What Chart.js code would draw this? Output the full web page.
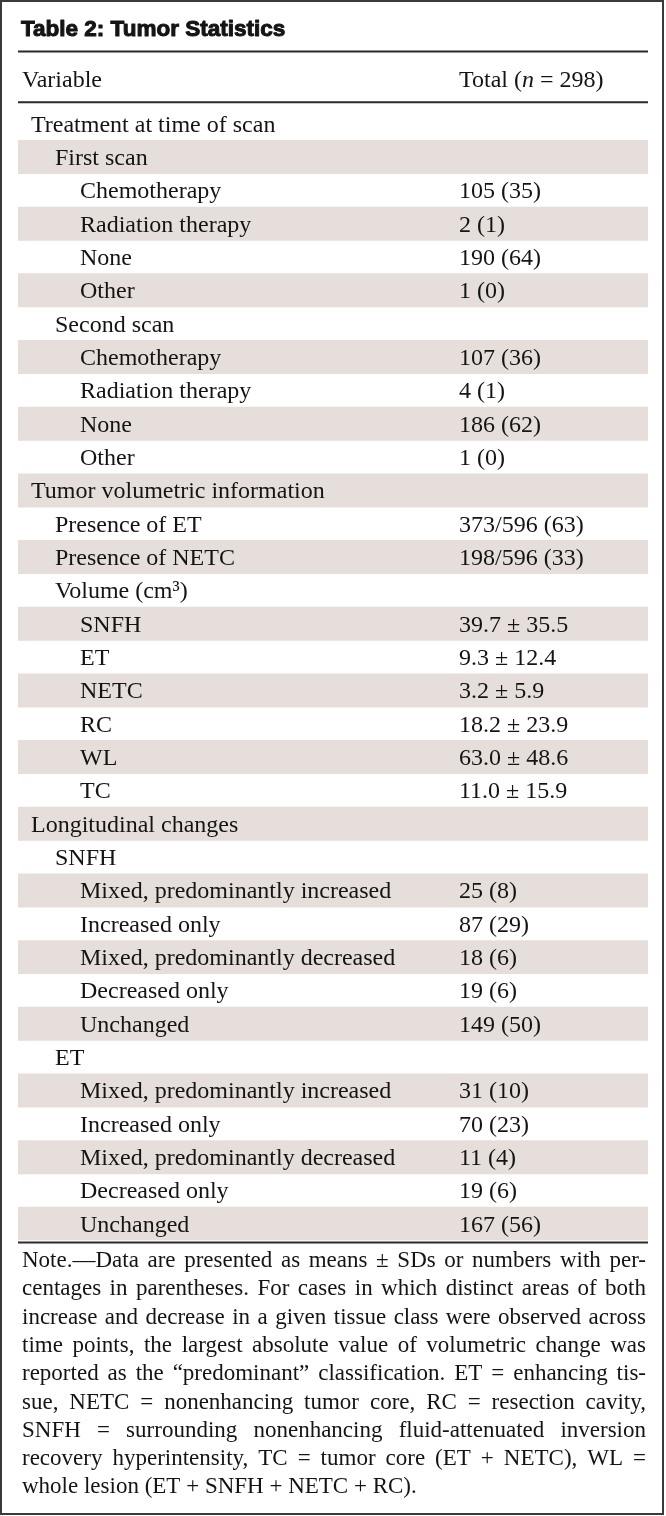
<!DOCTYPE html>
<html>
<head>
<meta charset="utf-8">
<script src="https://cdn.jsdelivr.net/npm/chart.js@4.4.1/dist/chart.umd.min.js"></script>
<style>
  html, body { margin: 0; padding: 0; background: #fff; }
  #wrap { width: 666px; height: 1516px; position: relative; }
</style>
</head>
<body>
<div id="wrap"><canvas id="tbl"></canvas></div>
<script>
// Table rows (variable column), indent level and total column
const rowLabels = [
    'Treatment at time of scan', 'First scan', 'Chemotherapy', 'Radiation therapy', 'None', 'Other',
    'Second scan', 'Chemotherapy', 'Radiation therapy', 'None', 'Other',
    'Tumor volumetric information', 'Presence of ET', 'Presence of NETC', 'Volume (cm\u00B3)',
    'SNFH', 'ET', 'NETC', 'RC', 'WL', 'TC',
    'Longitudinal changes', 'SNFH',
    'Mixed, predominantly increased', 'Increased only', 'Mixed, predominantly decreased', 'Decreased only', 'Unchanged',
    'ET',
    'Mixed, predominantly increased', 'Increased only', 'Mixed, predominantly decreased', 'Decreased only', 'Unchanged'
];
const rowLevels = [
    0, 1, 2, 2, 2, 2,
    1, 2, 2, 2, 2,
    0, 1, 1, 1,
    2, 2, 2, 2, 2, 2,
    0, 1,
    2, 2, 2, 2, 2,
    1,
    2, 2, 2, 2, 2
];
const rowValues = [
    '', '', '105 (35)', '2 (1)', '190 (64)', '1 (0)',
    '', '107 (36)', '4 (1)', '186 (62)', '1 (0)',
    '', '373/596 (63)', '198/596 (33)', '',
    '39.7 \u00B1 35.5', '9.3 \u00B1 12.4', '3.2 \u00B1 5.9', '18.2 \u00B1 23.9', '63.0 \u00B1 48.6', '11.0 \u00B1 15.9',
    '', '',
    '25 (8)', '87 (29)', '18 (6)', '19 (6)', '149 (50)',
    '',
    '31 (10)', '70 (23)', '11 (4)', '19 (6)', '167 (56)'
];

const titleText = 'Table 2: Tumor Statistics';
const headerLeft = 'Variable';
const noteLines = [
    'Note.\u2014Data are presented as means \u00B1 SDs or numbers with per-',
    'centages in parentheses. For cases in which distinct areas of both',
    'increase and decrease in a given tissue class were observed across',
    'time points, the largest absolute value of volumetric change was',
    'reported as the \u201Cpredominant\u201D classification. ET = enhancing tis-',
    'sue, NETC = nonenhancing tumor core, RC = resection cavity,',
    'SNFH = surrounding nonenhancing fluid-attenuated inversion',
    'recovery hyperintensity, TC = tumor core (ET + NETC), WL =',
    'whole lesion (ET + SNFH + NETC + RC).'
];

const SERIF = '"Liberation Serif", "Times New Roman", serif';
const TEXT = '#141414';
const RULE = '#2a2a2a';
const BAND = '#e6dedb';

// every second row is shaded
const bandValues = rowLabels.map((_, i) => (i % 2 === 1 ? 1 : null));

function drawJustified(ctx, text, x, y, width, justify) {
    if (!justify) {
        ctx.fillText(text, x, y);
        return;
    }
    const words = text.split(' ');
    const wordsWidth = words.reduce((s, w) => s + ctx.measureText(w).width, 0);
    const gap = (width - wordsWidth) / (words.length - 1);
    let cx = x;
    words.forEach(w => {
        ctx.fillText(w, cx, y);
        cx += ctx.measureText(w).width + gap;
    });
}

const tablePlugin = {
    id: 'tablePlugin',
    beforeDraw(chart) {
        const ctx = chart.ctx;
        ctx.save();
        ctx.fillStyle = '#fff';
        ctx.fillRect(0, 0, chart.width, chart.height);
        ctx.restore();
    },
    afterDatasetsDraw(chart) {
        const ctx = chart.ctx;
        const yScale = chart.scales.y;
        const area = chart.chartArea;
        const indent = [31, 55, 80];
        const valueX = 459;

        ctx.save();
        ctx.fillStyle = TEXT;
        ctx.textBaseline = 'alphabetic';
        ctx.font = '24px ' + SERIF;
        rowLabels.forEach((label, i) => {
            const y = yScale.getPixelForValue(i) + 8;
            ctx.fillText(label, indent[rowLevels[i]], y);
            if (rowValues[i]) ctx.fillText(rowValues[i], valueX, y);
        });

        // outer frame
        ctx.strokeStyle = '#3a3a3a';
        ctx.lineWidth = 2;
        ctx.strokeRect(1, 1, chart.width - 4, chart.height - 3);

        // title (heavy face: fill + thin stroke)
        ctx.font = 'bold 22.5px "Liberation Sans", Arial, sans-serif';
        ctx.strokeStyle = TEXT;
        ctx.lineWidth = 1;
        ctx.lineJoin = 'round';
        ctx.fillText(titleText, 21, 36);
        ctx.strokeText(titleText, 21, 36);

        // rules
        ctx.strokeStyle = RULE;
        ctx.lineWidth = 2;
        [51.5, 102.3, area.bottom + 2].forEach(y => {
            ctx.beginPath();
            ctx.moveTo(area.left, y);
            ctx.lineTo(area.right, y);
            ctx.stroke();
        });

        // header
        ctx.font = '24px ' + SERIF;
        ctx.fillText(headerLeft, 22, 87);
        let hx = valueX;
        const parts = [['Total (', ''], ['n', 'italic '], [' = 298)', '']];
        parts.forEach(([t, style]) => {
            ctx.font = style + '24px ' + SERIF;
            ctx.fillText(t, hx, 87);
            hx += ctx.measureText(t).width;
        });

        // note
        ctx.font = '23px ' + SERIF;
        noteLines.forEach((line, i) => {
            drawJustified(ctx, line, 22, 1267 + i * 28.3, 624, i < noteLines.length - 1);
        });
        ctx.restore();
    }
};

new Chart(document.getElementById('tbl'), {
    type: 'bar',
    data: {
        labels: rowLabels,
        datasets: [{
            data: bandValues,
            backgroundColor: BAND,
            borderWidth: 0,
            barPercentage: 1,
            categoryPercentage: 1
        }]
    },
    options: {
        indexAxis: 'y',
        responsive: true,
        maintainAspectRatio: false,
        animation: false,
        layout: {
            padding: { top: 107, bottom: 275.5, left: 18, right: 18 }
        },
        scales: {
            x: { display: false, min: 0, max: 1 },
            y: { display: false }
        },
        plugins: {
            legend: { display: false },
            tooltip: { enabled: false }
        }
    },
    plugins: [tablePlugin]
});
</script>
</body>
</html>
